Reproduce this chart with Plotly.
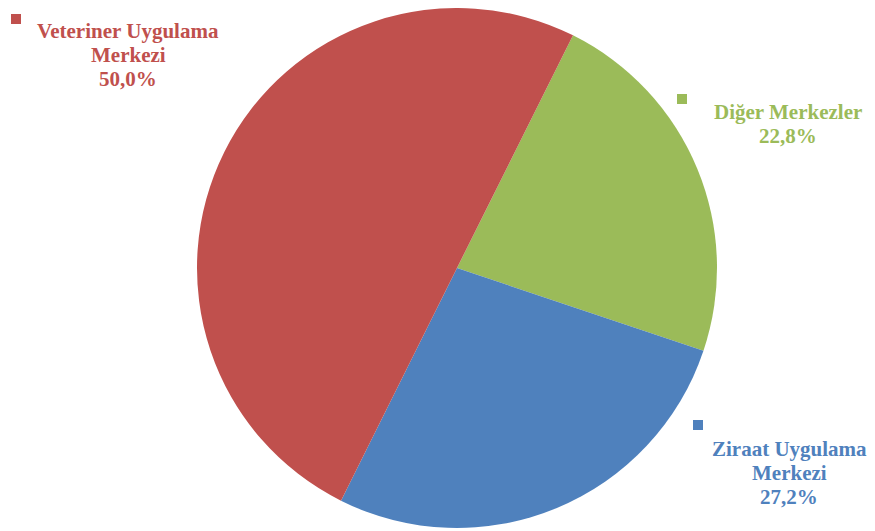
import plotly.graph_objects as go

labels = ["Diğer Merkezler", "Ziraat Uygulama Merkezi", "Veteriner Uygulama Merkezi"]
values = [22.8, 27.2, 50.0]
colors = ["#9BBB59", "#4F81BD", "#C0504D"]
label_lines = [["Diğer Merkezler", "22,8%"],
               ["Ziraat Uygulama", "Merkezi", "27,2%"],
               ["Veteriner Uygulama", "Merkezi", "50,0%"]]

W, H = 875, 531
OFF = 8  # page body margin offset
# label positions (pixel, reference) for first text line centre and square marker centre
text_pos = [(788, 112), (789, 449), (128, 31)]
square_pos = [(682, 99), (698, 425), (16, 19)]
LINE = 24

def px(x):
    return (x - OFF) / W

def py(y):
    return min(1.0, max(0.0, 1 - (y - OFF) / H))

cx, cy, r = 457, 268, 260
fig = go.Figure(go.Pie(
    labels=labels, values=values, sort=False, direction="clockwise", rotation=26.5,
    marker=dict(colors=colors, line=dict(width=0)),
    textinfo="none", hoverinfo="label+percent",
    domain=dict(x=[px(cx - r), px(cx + r)], y=[py(cy + r), py(cy - r)]),
))

for i in range(3):
    tx, ty = text_pos[i]
    for j, line in enumerate(label_lines[i]):
        fig.add_annotation(x=px(tx), y=py(ty + j * LINE), xref="paper", yref="paper",
                           text="<b>" + line + "</b>",
                           showarrow=False, xanchor="center", yanchor="middle", align="center",
                           font=dict(family="Liberation Serif", size=21, color=colors[i]))
    sx, sy = square_pos[i]
    fig.add_shape(type="rect", xref="paper", yref="paper",
                  x0=px(sx - 5), x1=px(sx + 5), y0=py(sy + 5), y1=py(sy - 5),
                  fillcolor=colors[i], line=dict(width=0))

fig.update_layout(width=W, height=H, margin=dict(l=0, r=0, t=0, b=0), showlegend=False,
                  paper_bgcolor="white", plot_bgcolor="white")
fig.write_html("out.html")
